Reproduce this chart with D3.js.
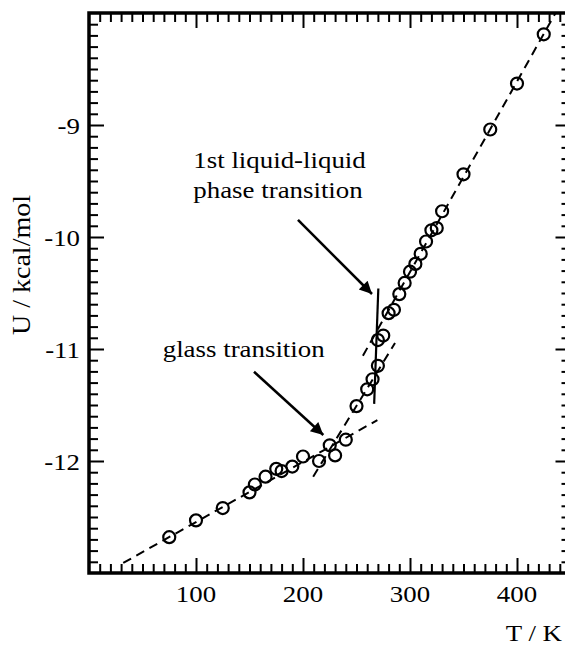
<!DOCTYPE html>
<html>
<head>
<meta charset="utf-8">
<script src="https://cdn.jsdelivr.net/npm/d3@7"></script>
<style>
  html, body { margin: 0; padding: 0; background: #fff; }
  svg { display: block; }
  text { font-family: "Liberation Serif", "Times New Roman", serif; fill: #000; }
</style>
</head>
<body>
<svg id="chart" width="565" height="647"></svg>
<script>
// Simulated internal energy vs temperature
const temperatures = [75, 100, 125, 150, 155, 165, 175, 180, 190, 200, 215, 225, 230, 240,
  250, 260, 265, 270, 270, 275, 280, 285, 290, 295, 300, 305, 310, 315, 320, 325, 330,
  350, 375, 400, 425];
const energies = [-12.68, -12.53, -12.42, -12.28, -12.21, -12.14, -12.07, -12.09, -12.05,
  -11.96, -12.00, -11.86, -11.95, -11.81, -11.51, -11.36, -11.27, -11.15, -10.92, -10.88,
  -10.68, -10.65, -10.51, -10.41, -10.31, -10.24, -10.15, -10.04, -9.94, -9.92, -9.77,
  -9.44, -9.04, -8.63, -8.19];

// Linear fits (endpoints in T, U)
const glassFit = [[32, -12.91], [269.5, -11.635]];
const intermediateFit = [[209.5, -12.14], [286, -10.946]];
const liquidFit = [[256, -11.06], [436, -8.0]];
const transitionLine = [[270.4, -10.46], [266.5, -11.49]];

// Axis ticks and labels
const xMajor = [100, 200, 300, 400];
const xLabels = ["100", "200", "300", "400"];
const yMajor = [-9, -10, -11, -12];
const yLabels = ["-9", "-10", "-11", "-12"];
const xTitle = "T / K";
const yTitle = "U / kcal/mol";

// Annotations: label lines anchored at (T, U), arrows from -> to
const annotations = [
  { lines: ["1st liquid-liquid", "phase transition"], at: [97.5, -9.387], from: [195.3, -9.848], to: [264.5, -10.509] },
  { lines: ["glass transition"], at: [68.9, -11.069], from: [154.2, -11.203], to: [219, -11.768] }
];

const svg = d3.select("#chart");
const mLeft = 89, mRight = 570.5, mTop = 13, mBottom = 573;
const x = d3.scaleLinear().domain([0, 450]).range([mLeft, mRight]);
const y = d3.scaleLinear().domain([-13, -8]).range([mBottom, mTop]);

const SX = 1.12; // stretch of the serif lettering along its reading direction
const FS = 24;

const xMinor = d3.range(0, 451, 10).filter(v => v % 100 !== 0);
const yMinor = d3.range(-130, -79, 1).map(v => v / 10).filter(v => Math.abs(v - Math.round(v)) > 1e-9);

function tickGroup(axis, tx, ty) {
  const g = svg.append("g").attr("transform", `translate(${tx},${ty})`).call(axis);
  g.select(".domain").remove();
  g.selectAll(".tick line").attr("stroke", "#000").attr("stroke-width", 2);
  g.selectAll(".tick text").remove();
  return g;
}

// inward-pointing ticks on all four sides
tickGroup(d3.axisBottom(x).tickValues(xMinor).tickSize(-9).tickFormat(""), 0, mBottom);
tickGroup(d3.axisBottom(x).tickValues(xMajor).tickSize(-15).tickFormat(""), 0, mBottom);
tickGroup(d3.axisTop(x).tickValues(xMinor).tickSize(-9).tickFormat(""), 0, mTop);
tickGroup(d3.axisTop(x).tickValues(xMajor).tickSize(-15).tickFormat(""), 0, mTop);
tickGroup(d3.axisLeft(y).tickValues(yMinor).tickSize(-9).tickFormat(""), mLeft, 0);
tickGroup(d3.axisLeft(y).tickValues(yMajor).tickSize(-15).tickFormat(""), mLeft, 0);
tickGroup(d3.axisRight(y).tickValues(yMinor).tickSize(-9).tickFormat(""), mRight, 0);
tickGroup(d3.axisRight(y).tickValues(yMajor).tickSize(-15).tickFormat(""), mRight, 0);

// frame
svg.append("rect")
  .attr("x", mLeft).attr("y", mTop)
  .attr("width", mRight - mLeft).attr("height", mBottom - mTop)
  .attr("fill", "none").attr("stroke", "#000").attr("stroke-width", 3.5);

function label(txt, px, py, anchor, rot, fs) {
  svg.append("text")
    .attr("transform", `translate(${px},${py})` + (rot ? ` rotate(${rot})` : "") + ` scale(${SX},1)`)
    .attr("text-anchor", anchor)
    .attr("font-size", fs || FS)
    .text(txt);
}

xMajor.forEach((v, i) => label(xLabels[i], x(v), 602, "middle"));
yMajor.forEach((v, i) => label(yLabels[i], mLeft - 9, y(v) + 9, "end"));
label(xTitle, 562, 641, "end");
label(yTitle, 30, 265, "middle", -90, 25);

// fit lines
const line = d3.line().x(d => x(d[0])).y(d => y(d[1]));
[glassFit, intermediateFit, liquidFit].forEach(seg => {
  svg.append("path").attr("d", line(seg))
    .attr("fill", "none").attr("stroke", "#000").attr("stroke-width", 2)
    .attr("stroke-dasharray", "9,6");
});
svg.append("path").attr("d", line(transitionLine))
  .attr("fill", "none").attr("stroke", "#000").attr("stroke-width", 2.2);

// data points
svg.append("g").selectAll("circle")
  .data(temperatures.map((t, i) => [t, energies[i]]))
  .join("circle")
  .attr("cx", d => x(d[0])).attr("cy", d => y(d[1]))
  .attr("r", 6)
  .attr("fill", "none").attr("stroke", "#000").attr("stroke-width", 2.2);

// annotations
svg.append("defs").append("marker")
  .attr("id", "head").attr("viewBox", "0 0 10 10")
  .attr("refX", 10).attr("refY", 5)
  .attr("markerWidth", 6).attr("markerHeight", 5)
  .attr("markerUnits", "strokeWidth")
  .attr("orient", "auto")
  .append("path").attr("d", "M0,0 L10,5 L0,10 Z").attr("fill", "#000");

annotations.forEach(a => {
  a.lines.forEach((t, i) => label(t, x(a.at[0]), y(a.at[1]) + i * 30, "start"));
  svg.append("line")
    .attr("x1", x(a.from[0])).attr("y1", y(a.from[1]))
    .attr("x2", x(a.to[0])).attr("y2", y(a.to[1]))
    .attr("stroke", "#000").attr("stroke-width", 2.5)
    .attr("marker-end", "url(#head)");
});
</script>
</body>
</html>
